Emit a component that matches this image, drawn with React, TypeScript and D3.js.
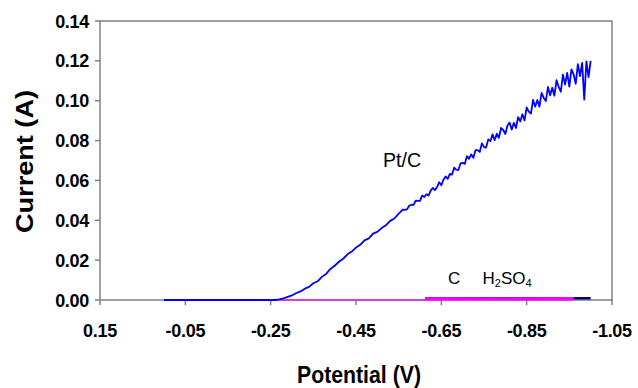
import React from "react";
import * as d3 from "d3";

const xTicks = [0.15, -0.05, -0.25, -0.45, -0.65, -0.85, -1.05];
const yTicks = [0, 0.02, 0.04, 0.06, 0.08, 0.1, 0.12, 0.14];

// Pt/C series: [potential (V), current (A)]
const ptcData: [number, number][] = [
  [0.0, 0], [-0.26, 0], [-0.27, 0.0003], [-0.28, 0.0008], [-0.29, 0.0016], [-0.3, 0.0023],
  [-0.31, 0.0035], [-0.32, 0.0043], [-0.33, 0.0057], [-0.34, 0.0066], [-0.35, 0.0084],
  [-0.36, 0.0094], [-0.37, 0.0116], [-0.38, 0.0131], [-0.39, 0.0156], [-0.4, 0.0172],
  [-0.41, 0.0192], [-0.42, 0.0207], [-0.43, 0.0229], [-0.44, 0.0243], [-0.45, 0.0263],
  [-0.46, 0.0277], [-0.47, 0.0299], [-0.48, 0.0309], [-0.49, 0.0333], [-0.5, 0.0342],
  [-0.51, 0.0361], [-0.52, 0.0375], [-0.53, 0.0397], [-0.54, 0.0409], [-0.55, 0.0433],
  [-0.555, 0.0443], [-0.56, 0.0454], [-0.565, 0.0452], [-0.57, 0.0456], [-0.575, 0.0474],
  [-0.58, 0.0478], [-0.585, 0.0477], [-0.59, 0.0499], [-0.595, 0.0497], [-0.6, 0.0497],
  [-0.605, 0.0524], [-0.61, 0.0517], [-0.615, 0.0531], [-0.62, 0.0524], [-0.625, 0.0549],
  [-0.63, 0.0562], [-0.635, 0.0551], [-0.64, 0.0567], [-0.645, 0.0591], [-0.65, 0.0576],
  [-0.655, 0.0604], [-0.66, 0.062], [-0.665, 0.0608], [-0.67, 0.0633], [-0.675, 0.0629],
  [-0.68, 0.0664], [-0.685, 0.0654], [-0.69, 0.0652], [-0.695, 0.0686], [-0.7, 0.0688],
  [-0.705, 0.0683], [-0.71, 0.0722], [-0.715, 0.0708], [-0.72, 0.0731], [-0.725, 0.0713],
  [-0.73, 0.0752], [-0.735, 0.0752], [-0.74, 0.0743], [-0.745, 0.0786], [-0.75, 0.0767],
  [-0.755, 0.0765], [-0.76, 0.0806], [-0.765, 0.0797], [-0.77, 0.0831], [-0.775, 0.0802],
  [-0.78, 0.0834], [-0.785, 0.0814], [-0.79, 0.0863], [-0.795, 0.0853], [-0.8, 0.0833],
  [-0.805, 0.0876], [-0.81, 0.089], [-0.815, 0.0855], [-0.82, 0.0889], [-0.825, 0.0863],
  [-0.83, 0.0918], [-0.835, 0.0896], [-0.84, 0.0932], [-0.845, 0.0901], [-0.85, 0.0966],
  [-0.855, 0.0945], [-0.86, 0.0935], [-0.865, 0.1004], [-0.87, 0.097], [-0.875, 0.1004],
  [-0.88, 0.097], [-0.885, 0.1039], [-0.89, 0.1014], [-0.895, 0.0998], [-0.9, 0.1069],
  [-0.905, 0.1027], [-0.91, 0.1065], [-0.915, 0.1025], [-0.92, 0.1103], [-0.925, 0.1069],
  [-0.93, 0.1045], [-0.935, 0.1131], [-0.94, 0.1081], [-0.945, 0.114], [-0.95, 0.1071],
  [-0.955, 0.1157], [-0.96, 0.1132], [-0.965, 0.1085], [-0.97, 0.1184], [-0.975, 0.1124],
  [-0.98, 0.119], [-0.985, 0.1005], [-0.99, 0.1197], [-0.995, 0.1118], [-1.0, 0.12],
];

const h2so4Base: [number, number][] = [[-0.26, 0], [-0.96, 0]];
const h2so4Data: [number, number][] = [[-0.612, 0.0007], [-0.96, 0.0008]];
const cData: [number, number][] = [[-0.612, 0.0007], [-1.0, 0.0009]];

const W = 638;
const H = 388;
const M = { left: 100, right: 612, top: 21, bottom: 300 };
const FONT = "'Liberation Sans', Arial, Helvetica, sans-serif";
const AXIS = "#808080";

export default function App() {
  const x = d3.scaleLinear().domain([0.15, -1.05]).range([M.left, M.right]);
  const y = d3.scaleLinear().domain([0, 0.14]).range([M.bottom, M.top]);
  const line = d3
    .line<[number, number]>()
    .x((d) => x(d[0]))
    .y((d) => y(d[1]));

  return (
    <svg
      width={W}
      height={H}
      style={{ position: "absolute", left: 0, top: 0, background: "#fff" }}
    >
      <rect x={0} y={0} width={W} height={H} fill="#fff" />
      {/* frame */}
      <rect
        x={M.left}
        y={M.top}
        width={M.right - M.left}
        height={M.bottom - M.top}
        fill="none"
        stroke={AXIS}
        strokeWidth={1.5}
      />
      {/* y ticks */}
      {yTicks.map((t) => (
        <g key={"y" + t}>
          <line x1={M.left - 5} x2={M.left} y1={y(t)} y2={y(t)} stroke={AXIS} strokeWidth={1.5} />
          <text
            x={89}
            y={y(t) + 6.5}
            textAnchor="end"
            fontFamily={FONT}
            fontSize={18}
            fontWeight="bold"
            letterSpacing={-0.3}
            fill="#000"
          >
            {t.toFixed(2)}
          </text>
        </g>
      ))}
      {/* x ticks */}
      {xTicks.map((t) => (
        <g key={"x" + t}>
          <line x1={x(t)} x2={x(t)} y1={M.bottom} y2={M.bottom + 5} stroke={AXIS} strokeWidth={1.5} />
          <text
            x={x(t)}
            y={337}
            textAnchor="middle"
            fontFamily={FONT}
            fontSize={18}
            fontWeight="bold"
            letterSpacing={-0.3}
            fill="#000"
          >
            {t.toFixed(2)}
          </text>
        </g>
      ))}
      {/* series */}
      <path d={line(cData) || ""} fill="none" stroke="#000080" strokeWidth={2.6} />
      <path d={line(h2so4Base) || ""} fill="none" stroke="#ff00ff" strokeWidth={1.4} strokeOpacity={0.8} />
      <path d={line(h2so4Data) || ""} fill="none" stroke="#ff00ff" strokeWidth={2.6} />
      <path d={line(ptcData) || ""} fill="none" stroke="#0000ff" strokeWidth={1.8} strokeLinejoin="round" />
      {/* series labels */}
      <text x={383} y={166.5} fontFamily={FONT} fontSize={20} textLength={38} lengthAdjust="spacingAndGlyphs" fill="#000">
        Pt/C
      </text>
      <text x={448} y={283.5} fontFamily={FONT} fontSize={17} fill="#000">
        C
      </text>
      <text x={482.5} y={283.5} fontFamily={FONT} fontSize={17} fill="#000">
        H
        <tspan fontSize={11} dy={3}>2</tspan>
        <tspan dy={-3}>SO</tspan>
        <tspan fontSize={11} dy={3}>4</tspan>
      </text>
      {/* axis titles */}
      <text
        x={359}
        y={383}
        textAnchor="middle"
        fontFamily={FONT}
        fontSize={24}
        fontWeight="bold"
        textLength={124}
        lengthAdjust="spacingAndGlyphs"
        fill="#000"
      >
        Potential (V)
      </text>
      <text
        transform={`translate(33,161.5) rotate(-90)`}
        textAnchor="middle"
        fontFamily={FONT}
        fontSize={23}
        fontWeight="bold"
        textLength={143}
        lengthAdjust="spacingAndGlyphs"
        fill="#000"
      >
        Current (A)
      </text>
    </svg>
  );
}
